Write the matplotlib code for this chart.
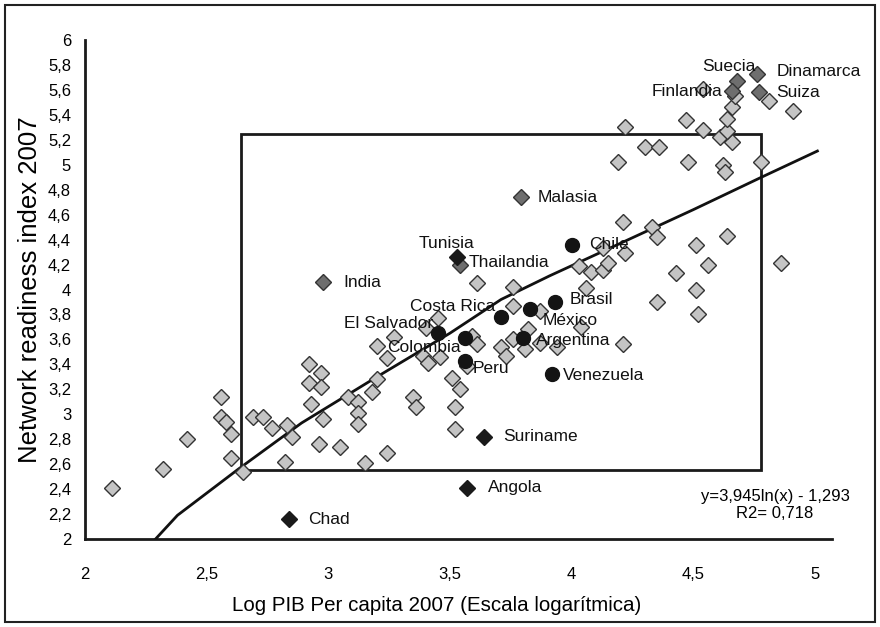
import matplotlib.pyplot as plt
from matplotlib.patches import Rectangle

plt.rcParams['font.family'] = ['Liberation Sans', 'DejaVu Sans']

# countries without label (light gray diamonds)
gray_x = [2.11, 2.32, 2.42, 2.56, 2.56, 2.58, 2.60, 2.60, 2.65, 2.69,
          2.73, 2.77, 2.83, 2.85, 2.82, 2.92, 2.97, 2.92, 2.97, 2.93,
          2.98, 2.96, 3.05, 3.08, 3.12, 3.12, 3.12, 3.18, 3.20, 3.24,
          3.20, 3.27, 3.24, 3.15, 3.45, 3.40, 3.39, 3.41, 3.46, 3.59,
          3.61, 3.57, 3.51, 3.54, 3.35, 3.36, 3.52, 3.52, 3.76, 3.71,
          3.73, 3.76, 3.82, 3.81, 3.87, 3.94, 3.87, 3.76, 4.04, 4.06,
          4.03, 4.08, 4.13, 4.15, 4.13, 4.22, 4.21, 4.33, 4.35, 4.21,
          4.35, 4.43, 4.51, 4.52, 4.51, 4.56, 4.64, 4.86, 4.19, 4.22,
          4.30, 4.36, 4.48, 4.54, 4.61, 4.62, 4.63, 4.66, 4.64, 4.47,
          4.64, 4.66, 4.67, 4.54, 4.78, 4.81, 4.91, 3.61]
gray_y = [2.41, 2.56, 2.80, 3.14, 2.98, 2.94, 2.84, 2.65, 2.54, 2.98,
          2.98, 2.89, 2.91, 2.82, 2.62, 3.40, 3.33, 3.25, 3.22, 3.08,
          2.96, 2.76, 2.74, 3.14, 3.10, 3.01, 2.92, 3.18, 3.28, 3.45,
          3.55, 3.62, 2.69, 2.61, 3.77, 3.69, 3.47, 3.41, 3.46, 3.63,
          3.56, 3.39, 3.29, 3.20, 3.14, 3.06, 3.06, 2.88, 3.87, 3.54,
          3.47, 3.60, 3.68, 3.52, 3.57, 3.54, 3.83, 4.02, 3.70, 4.01,
          4.19, 4.14, 4.16, 4.21, 4.33, 4.29, 4.54, 4.50, 4.42, 3.56,
          3.90, 4.13, 4.00, 3.80, 4.36, 4.20, 4.43, 4.21, 5.02, 5.30,
          5.14, 5.14, 5.02, 5.28, 5.22, 5.00, 4.94, 5.18, 5.27, 5.36,
          5.37, 5.46, 5.55, 5.61, 5.02, 5.51, 5.43, 4.05]

# highlighted countries (dark gray diamonds)
dark_names = ["India", "Thailandia", "Malasia", "Suecia", "Dinamarca", "Finlandia", "Suiza"]
dark_x = [2.98, 3.54, 3.79, 4.68, 4.76, 4.66, 4.77]
dark_y = [4.06, 4.20, 4.74, 5.67, 5.73, 5.59, 5.58]

# black diamonds
black_names = ["Tunisia", "Suriname", "Angola", "Chad"]
black_x = [3.53, 3.64, 3.57, 2.84]
black_y = [4.26, 2.82, 2.41, 2.16]

# latin america (black circles)
latam_names = ["El Salvador", "Colombia", "Peru", "Costa Rica", "México",
               "Argentina", "Brasil", "Venezuela", "Chile"]
latam_x = [3.45, 3.56, 3.56, 3.71, 3.83, 3.80, 3.93, 3.92, 4.00]
latam_y = [3.65, 3.61, 3.43, 3.78, 3.84, 3.61, 3.90, 3.32, 4.36]

# trend line
trend_x = [2.29, 2.38, 2.63, 2.89, 3.2, 3.5, 3.71, 3.91, 4.2, 4.5, 4.78, 5.01]
trend_y = [2.0, 2.19, 2.56, 2.93, 3.30, 3.65, 3.92, 4.11, 4.37, 4.64, 4.90, 5.11]
trend_text = "y=3,945ln(x) - 1,293\nR2= 0,718"

# box drawn over the chart
box_x0, box_x1 = 2.64, 4.78
box_y0, box_y1 = 2.55, 5.245

xticks = [2, 2.5, 3, 3.5, 4, 4.5, 5]
xtick_labels = ["2", "2,5", "3", "3,5", "4", "4,5", "5"]
yticks = [2 + 0.2 * i for i in range(21)]
ytick_labels = ["2", "2,2", "2,4", "2,6", "2,8", "3", "3,2", "3,4", "3,6", "3,8", "4",
                "4,2", "4,4", "4,6", "4,8", "5", "5,2", "5,4", "5,6", "5,8", "6"]

# label offsets in pixels (dx, dy, ha)
label_pos = {
    "India": (20, 0, "left"), "Thailandia": (9, 2, "left"), "Malasia": (17, 0, "left"),
    "Suecia": (-8, 15, "center"), "Dinamarca": (20, 2, "left"), "Finlandia": (-10, 0, "right"),
    "Suiza": (17, 0, "left"), "Tunisia": (-11, 14, "center"), "Suriname": (19, 0, "left"),
    "Angola": (21, 0, "left"), "Chad": (19, 0, "left"), "El Salvador": (-5, 10, "right"),
    "Colombia": (-4, -9, "right"), "Peru": (8, -8, "left"), "Costa Rica": (-6, 10, "right"),
    "México": (12, -11, "left"), "Argentina": (13, -2, "left"), "Brasil": (15, 2, "left"),
    "Venezuela": (11, -1, "left"), "Chile": (17, 0, "left"),
}

fig = plt.figure(figsize=(8.8, 6.27), dpi=100)
ax = fig.add_axes([85 / 880, 88 / 627, 747 / 880, 499 / 627])

ax.add_patch(Rectangle((box_x0, box_y0), box_x1 - box_x0, box_y1 - box_y0,
                       fill=False, edgecolor="#1a1a1a", lw=2, zorder=2))
ax.plot(trend_x, trend_y, color="#111111", lw=2, zorder=3)

ax.plot(gray_x, gray_y, "D", ms=8.6, mfc="#c4c4c4", mec="#333333", mew=1, ls="none", zorder=4)
ax.plot(dark_x, dark_y, "D", ms=8.6, mfc="#6e6e6e", mec="#333333", mew=1, ls="none", zorder=5)
ax.plot(black_x, black_y, "D", ms=8.6, mfc="#1a1a1a", mec="#1a1a1a", mew=1, ls="none", zorder=5)
ax.plot(latam_x, latam_y, "o", ms=10, mfc="#141414", mec="#141414", ls="none", zorder=5)

for names, xs, ys in [(dark_names, dark_x, dark_y), (black_names, black_x, black_y),
                      (latam_names, latam_x, latam_y)]:
    for n, x, y in zip(names, xs, ys):
        dx, dy, ha = label_pos[n]
        ax.annotate(n, (x, y), xytext=(dx, dy), textcoords="offset pixels",
                    ha=ha, va="center", fontsize=12.5, color="#111111", zorder=6)

ax.set_xlim(2, 5.07)
ax.set_ylim(2, 6)
ax.set_xticks(xticks)
ax.set_xticklabels(xtick_labels)
ax.set_yticks(yticks)
ax.set_yticklabels(ytick_labels)
ax.tick_params(axis="x", length=0, pad=20, labelsize=12)
ax.tick_params(axis="y", length=0, pad=10, labelsize=12)
for s in ["top", "right"]:
    ax.spines[s].set_visible(False)
for s in ["left", "bottom"]:
    ax.spines[s].set_linewidth(2)
    ax.spines[s].set_color("#1a1a1a")

ax.set_xlabel("Log PIB Per capita 2007 (Escala logarítmica)", fontsize=14.8)
ax.xaxis.set_label_coords((437 - 85) / 747, -0.115)
ax.set_ylabel("Network readiness index 2007", fontsize=18.5)
ax.yaxis.set_label_coords(-0.058, 0.50)

fig.text(775 / 880, (627 - 505) / 627, trend_text, ha="center", va="center",
         fontsize=12, linespacing=1.1)

# frame around the whole picture
fig.patches.append(Rectangle((5 / 880, 5 / 627), 870 / 880, 617 / 627, fill=False,
                             edgecolor="#222222", lw=1.5, transform=fig.transFigure))

plt.savefig("out.png", dpi=100)
